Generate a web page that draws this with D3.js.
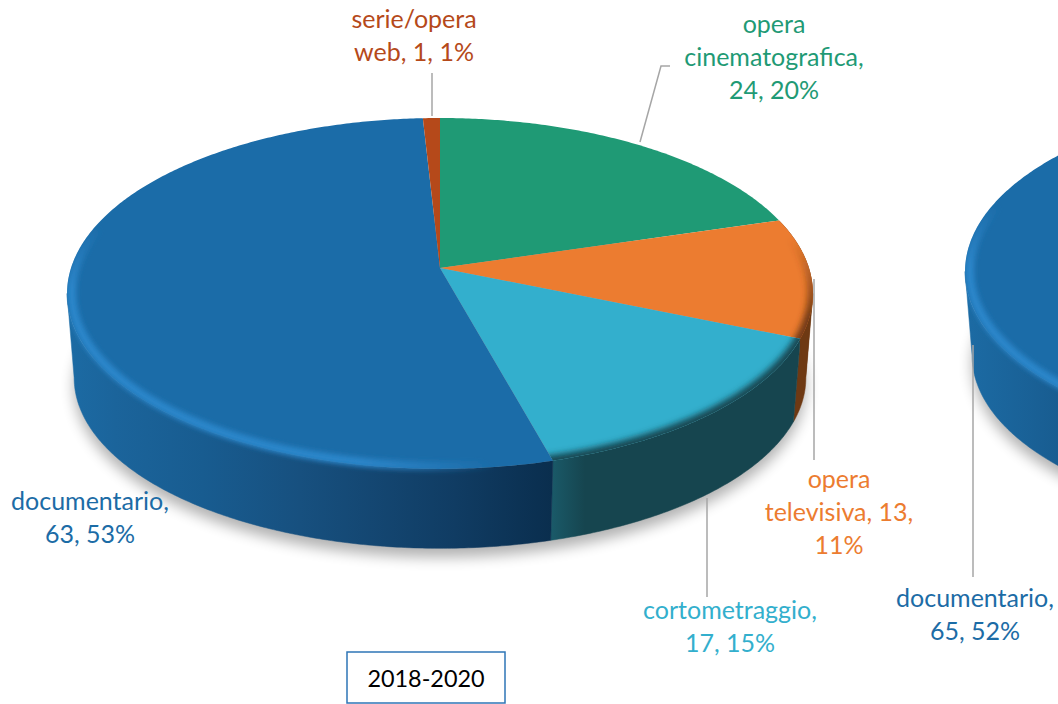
<!DOCTYPE html>
<html lang="it">
<head>
<meta charset="utf-8">
<title>2018-2020</title>
<script src="https://d3js.org/d3.v7.min.js"></script>
<style>
body { margin: 0; background: #fff; font-family: Lato, 'Open Sans', sans-serif; }
svg { display: block; }
</style>
</head>
<body>
<svg width="1058" height="704"></svg>
<script>
// values
var categories = ["opera cinematografica", "opera televisiva", "cortometraggio", "documentario", "serie/opera web"];
var values = [24, 13, 17, 63, 1];
var percents = [20, 11, 15, 53, 1];

// second pie runs off the page, only documentario is visible
var categories2 = ["altre tipologie", "documentario"];
var values2 = [60, 65];
var percent2 = 52;

var boxLabel = "2018-2020";

var topColors = {"opera cinematografica": "#1f9a75", "opera televisiva": "#ec7c30", "cortometraggio": "#33afcd", "documentario": "#1b6ca8", "serie/opera web": "#b5491a", "altre tipologie": "#1f9a75"};
var textColors = {"opera cinematografica": "#1f9a75", "opera televisiva": "#ec7c30", "cortometraggio": "#33afcd", "documentario": "#1c6ca6", "serie/opera web": "#b5491a"};
var rimColors = {"opera cinematografica": "#155f49", "opera televisiva": "#6e3913", "cortometraggio": "#16454f", "documentario": "#134e7c", "serie/opera web": "#6e2c10", "altre tipologie": "#155f49"};

var svg = d3.select("svg");
var defs = svg.append("defs");

// same camera for both pies
var persp = 0.145, topA = 171.75, topB = 369, botA = 167, botB = 362, depth = 85;
// angle where the disc edge turns away, side wall only exists between these
var edgeAngle = Math.acos(-persp);

function project(p, a, r, level) {
  var s = r * Math.sin(a), c = r * Math.cos(a);
  var d = 1 + persp * c;
  var ba = level ? botB : topB, aa = level ? botA : topA;
  return [p.x + ba * s / d, p.y + (level ? depth : 0) - aa * c / d];
}

var line = d3.line();

function arcPoints(p, a0, a1, r, level) {
  var n = Math.max(2, Math.ceil((a1 - a0) / 0.01));
  return d3.range(n + 1).map(function(i) {
    return project(p, a0 + (a1 - a0) * i / n, r, level);
  });
}

defs.append("filter").attr("id", "blurShadow").attr("x", "-20%").attr("y", "-20%").attr("width", "140%").attr("height", "140%")
  .append("feGaussianBlur").attr("stdDeviation", 7);
defs.append("filter").attr("id", "blurLight").attr("filterUnits", "userSpaceOnUse").attr("x", -200).attr("y", 0).attr("width", 2400).attr("height", 800)
  .append("feGaussianBlur").attr("stdDeviation", 2.6);
defs.append("filter").attr("id", "blurRim").attr("filterUnits", "userSpaceOnUse").attr("x", -200).attr("y", 0).attr("width", 2400).attr("height", 800)
  .append("feGaussianBlur").attr("stdDeviation", 3);

function addGradient(id, x1, y1, x2, y2, stops) {
  var g = defs.append("linearGradient").attr("id", id).attr("gradientUnits", "userSpaceOnUse")
    .attr("x1", x1).attr("y1", y1).attr("x2", x2).attr("y2", y2);
  stops.forEach(function(s) {
    g.append("stop").attr("offset", s[0]).attr("stop-color", s[1]).attr("stop-opacity", s[2] === undefined ? 1 : s[2]);
  });
}

function drawPie(id, p, cats, vals, blueStops) {
  var slices = d3.pie().sort(null).value(function(d) { return d; })(vals);
  var g = svg.append("g");

  // shadow under the disc
  g.append("path")
    .attr("d", line(arcPoints(p, 0, 2 * Math.PI, 1, 1)) + "Z")
    .attr("transform", "translate(0,9)")
    .attr("fill", "#000")
    .attr("opacity", 0.3)
    .attr("filter", "url(#blurShadow)");

  addGradient(id + "blueSide", p.x - 373, 0, p.x + 112, 0, blueStops);
  addGradient(id + "cyanSide", p.x + 111, 0, p.x + 145, 0, [[0, "#1a5a69"], [1, "#16454f"]]);

  // side wall, front part of each slice only
  var sidePaths = slices.map(function(s, i) {
    var a0 = Math.max(s.startAngle, edgeAngle), a1 = Math.min(s.endAngle, 2 * Math.PI - edgeAngle);
    if (a1 <= a0) return null;
    var pts = arcPoints(p, a0, a1, 1, 0).concat(arcPoints(p, a0, a1, 1, 1).reverse());
    var fill = rimColors[cats[i]];
    if (cats[i] == "documentario") fill = "url(#" + id + "blueSide)";
    if (cats[i] == "cortometraggio") fill = "url(#" + id + "cyanSide)";
    var d = line(pts) + "Z";
    g.append("path").attr("d", d).attr("fill", fill).attr("stroke", fill).attr("stroke-width", 0.5);
    return d;
  });

  // orange wedge also shows a sliver of wall behind the turn of the edge
  slices.forEach(function(s, i) {
    if (s.startAngle < edgeAngle && s.endAngle > edgeAngle) {
      var pts = arcPoints(p, s.startAngle, edgeAngle, 1, 0).concat([project(p, edgeAngle, 1, 1)]);
      g.append("path").attr("d", line(pts) + "Z").attr("fill", rimColors[cats[i]]);
    }
  });

  // top face
  slices.forEach(function(s, i) {
    var wedge = line([project(p, 0, 0, 0)].concat(arcPoints(p, s.startAngle, s.endAngle, 1, 0))) + "Z";
    var clipId = id + "clip" + i;
    var cp = defs.append("clipPath").attr("id", clipId);
    cp.append("path").attr("d", wedge);
    g.append("path").attr("d", wedge).attr("fill", topColors[cats[i]]);

    if (cats[i] == "documentario") {
      // light bevel bleeds a little over the wall
      var clipLight = id + "clipLight";
      var cl = defs.append("clipPath").attr("id", clipLight);
      cl.append("path").attr("d", wedge);
      if (sidePaths[i]) cl.append("path").attr("d", sidePaths[i]);
      addGradient(id + "light", p.x - 181, p.y + 55, p.x - 240, p.y + 152, [[0, "#2c86ca", 0], [0.6, "#2c86ca", 1], [1, "#2c86ca", 1]]);
      g.append("g").attr("clip-path", "url(#" + clipLight + ")")
        .append("path").attr("d", line(arcPoints(p, s.startAngle, s.endAngle, 0.988, 0)))
        .attr("fill", "none").attr("stroke", "url(#" + id + "light)").attr("stroke-width", 9)
        .attr("filter", "url(#blurLight)");
    } else {
      var arc = line(arcPoints(p, s.startAngle - 0.03, s.endAngle + 0.03, 1, 0));
      addGradient(id + "rim" + i, 0, p.y - 30, 0, p.y + 50, [[0, rimColors[cats[i]], 0], [1, rimColors[cats[i]], 1]]);
      g.append("g").attr("clip-path", "url(#" + clipId + ")")
        .append("path").attr("d", arc)
        .attr("fill", "none").attr("stroke", "url(#" + id + "rim" + i + ")")
        .attr("stroke-width", 11)
        .attr("filter", "url(#blurRim)");
    }
  });
}

drawPie("a", {x: 440, y: 268}, categories, values,
  [[0, "#1c6ba4"], [0.1, "#1b649b"], [0.28, "#185c90"], [0.48, "#17507f"], [0.8, "#103c63"], [1, "#0a2e4e"]]);
drawPie("b", {x: 1338, y: 246}, categories2, values2,
  [[0, "#1c6ba4"], [0.2, "#185c90"], [1, "#17507f"]]);

// leader lines
var leaders = [
  [[432, 73], [432, 116]],
  [[670, 66], [661, 66], [640, 142]],
  [[814, 279], [814, 460]],
  [[707, 498], [707, 597]],
  [[973, 345], [973, 577]]
];
svg.selectAll("path.leader").data(leaders).enter().append("path")
  .attr("class", "leader")
  .attr("d", function(d) { return line(d); })
  .attr("fill", "none")
  .attr("stroke", "#a6a6a6")
  .attr("stroke-width", 1.5);

// data labels, wrapped the way the chart wraps them
function labelRows(i) {
  var v = values[i], pc = percents[i];
  return [
    ["opera", "cinematografica,", v + ", " + pc + "%"],
    ["opera", "televisiva, " + v + ",", pc + "%"],
    ["cortometraggio,", v + ", " + pc + "%"],
    ["documentario,", v + ", " + pc + "%"],
    ["serie/opera", "web, " + v + ", " + pc + "%"]
  ][i];
}
var labelPos = [[774, 33], [839, 488], [730, 619], [90, 510], [414, 28]];

function drawLabel(rows, x, y, color) {
  var t = svg.append("text").attr("text-anchor", "middle").attr("fill", color).attr("font-size", 25);
  rows.forEach(function(r, j) {
    t.append("tspan").attr("x", x).attr("y", y + j * 33).text(r);
  });
}
categories.forEach(function(c, i) {
  drawLabel(labelRows(i), labelPos[i][0], labelPos[i][1], textColors[c]);
});
drawLabel(["documentario,", values2[1] + ", " + percent2 + "%"], 975, 607, textColors["documentario"]);

// period box
svg.append("rect").attr("x", 347).attr("y", 652).attr("width", 158).attr("height", 51)
  .attr("fill", "#fff").attr("stroke", "#2e75b6").attr("stroke-width", 1.5);
svg.append("text").attr("x", 426).attr("y", 687).attr("text-anchor", "middle")
  .attr("font-size", 23.4).attr("fill", "#000").text(boxLabel);
</script>
</body>
</html>
